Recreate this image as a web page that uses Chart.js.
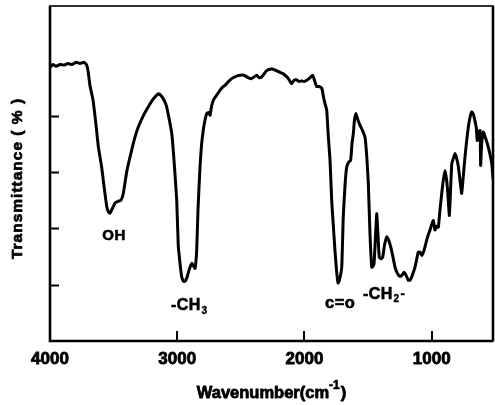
<!DOCTYPE html>
<html>
<head>
<meta charset="utf-8">
<style>
  html, body { margin: 0; padding: 0; background: #fff; }
  #wrap { width: 495px; height: 405px; }
</style>
<script src="https://cdn.jsdelivr.net/npm/chart.js@4.4.1/dist/chart.umd.min.js"></script>
</head>
<body>
<div id="wrap"><canvas id="ftir" width="495" height="405"></canvas></div>
<script>
// FTIR spectrum: wavenumber (cm-1) vs transmittance
const wavenumbers = [
  4000, 3976, 3953, 3921, 3890, 3859, 3827, 3796, 3764, 3733,
  3713, 3701, 3686, 3662, 3638, 3620, 3594, 3576, 3554, 3540,
  3528, 3513, 3489, 3466, 3442, 3424, 3395, 3358, 3332, 3306,
  3269, 3227, 3191, 3149, 3128, 3104, 3083, 3065, 3043, 3025,
  3004, 2992, 2978, 2965, 2951, 2939, 2923, 2907, 2896, 2884,
  2872, 2860, 2847, 2837, 2821, 2809, 2795, 2782, 2768, 2754,
  2742, 2730, 2716, 2695, 2680, 2664, 2644, 2625, 2601, 2572,
  2538, 2507, 2475, 2444, 2415, 2397, 2375, 2357, 2336, 2318,
  2302, 2284, 2255, 2218, 2192, 2169, 2153, 2129, 2100, 2082,
  2066, 2043, 2022, 2004, 1982, 1960, 1935, 1921, 1904, 1886,
  1864, 1850, 1839, 1825, 1813, 1799, 1786, 1773, 1760, 1748,
  1736, 1725, 1707, 1695, 1681, 1668, 1654, 1637, 1626, 1616,
  1607, 1595, 1579, 1563, 1544, 1524, 1511, 1498, 1485, 1471,
  1461, 1453, 1443, 1432, 1422, 1412, 1398, 1385, 1371, 1353,
  1338, 1322, 1304, 1288, 1269, 1249, 1233, 1218, 1202, 1184,
  1170, 1155, 1131, 1105, 1092, 1078, 1060, 1039, 1025, 1013,
  1001, 987, 974, 962, 948, 935, 921, 909, 895, 882,
  872, 861, 852, 842, 830, 817, 803, 790, 777, 764,
  751, 738, 725, 712, 699, 685, 673, 660, 649, 642,
  632, 620, 615, 608, 594, 579, 563, 545, 528, 518
];
const transmittance = [
  48.6, 49.1, 48.8, 49.1, 49.0, 49.3, 49.1, 49.5, 49.3, 49.5,
  49.1, 48.0, 45.4, 42.8, 38.3, 34.5, 30.9, 27.6, 23.9, 22.9,
  22.7, 23.4, 24.5, 24.8, 25.0, 26.2, 30.3, 33.9, 36.2, 38.0,
  39.9, 41.6, 42.9, 43.9, 43.6, 42.8, 41.6, 39.6, 36.9, 32.0,
  25.0, 17.0, 13.8, 11.4, 10.6, 10.6, 11.3, 12.6, 13.3, 13.8,
  13.3, 12.9, 16.1, 23.2, 30.9, 34.8, 37.5, 39.2, 40.4, 40.6,
  40.1, 41.7, 42.8, 43.5, 44.0, 44.5, 45.1, 45.4, 46.0, 46.6,
  47.0, 47.2, 47.2, 46.8, 46.6, 46.9, 47.2, 46.8, 46.9, 47.4,
  47.9, 48.2, 48.3, 48.0, 47.7, 47.5, 47.2, 46.7, 45.7, 46.3,
  46.4, 46.1, 46.2, 46.1, 46.3, 46.7, 47.2, 46.3, 45.2, 45.2,
  44.9, 43.3, 42.2, 41.0, 36.5, 32.1, 25.0, 20.5, 16.0, 12.6,
  10.3, 10.8, 13.1, 22.0, 27.7, 30.9, 31.7, 32.1, 35.2, 36.8,
  39.2, 40.4, 39.2, 38.3, 37.4, 36.2, 33.0, 28.0, 19.1, 13.1,
  13.3, 13.7, 17.9, 22.6, 18.8, 14.9, 14.6, 14.9, 17.0, 18.5,
  17.9, 16.7, 14.9, 13.1, 12.0, 11.5, 11.7, 12.2, 11.7, 10.8,
  10.8, 11.5, 13.1, 15.8, 15.8, 15.2, 16.1, 17.9, 19.0, 19.7,
  20.6, 21.4, 19.7, 20.4, 20.2, 23.2, 26.2, 28.5, 30.3, 28.5,
  25.9, 22.3, 26.6, 31.5, 32.4, 33.3, 32.4, 30.9, 28.5, 26.2,
  29.4, 32.7, 35.6, 38.0, 39.7, 40.7, 40.3, 39.1, 37.8, 35.6,
  37.0, 37.4, 31.2, 34.8, 37.1, 36.2, 35.1, 33.5, 31.5, 28.9
];
const xTickValues = [1000, 2000, 3000, 4000];
const xTickLabels = ['1000', '2000', '3000', '4000'];
const yTickValues = [10, 20, 30, 40];
const bandNames = ['OH', '-CH', 'c=o', '-CH'];
const bandSubscripts = ['', '3', '', '2'];
const bandSuffixes = ['', '', '', '-'];

const FONT = "'Liberation Sans', Arial, Helvetica, sans-serif";

// band label anchors in data units (wavenumber, transmittance)
const bandStyle = [
  { at: [3497, 17.9], align: 'center', size: 15 },
  { at: [3049, 5.5], align: 'left', size: 16 },
  { at: [1838, 5.8], align: 'left', size: 16.5 },
  { at: [1540, 7.5], align: 'left', size: 16 }
];

// heavy bold text: fill plus a thin stroke of the same colour
function heavyText(ctx, s, x, y, w) {
  ctx.fillText(s, x, y);
  ctx.lineWidth = w;
  ctx.strokeText(s, x, y);
}

const frameAndTicks = {
  id: 'frameAndTicks',
  afterDatasetsDraw(chart) {
    const { ctx, chartArea: a, scales } = chart;
    ctx.save();
    ctx.strokeStyle = '#000';
    ctx.lineCap = 'butt';
    ctx.lineWidth = 1.6;
    ctx.strokeRect(a.left, a.top, a.right - a.left, a.bottom - a.top);
    ctx.lineWidth = 2.6;
    ctx.beginPath();
    ctx.moveTo(a.left, a.top);
    ctx.lineTo(a.left, a.bottom);
    ctx.lineTo(a.right, a.bottom);
    ctx.moveTo(a.right, a.top);
    ctx.lineTo(a.right, a.bottom);
    ctx.stroke();
    // inward tick marks
    ctx.lineWidth = 2;
    ctx.beginPath();
    yTickValues.forEach(v => {
      const y = Math.round(scales.y.getPixelForValue(v)) + 0.5;
      ctx.moveTo(a.left, y);
      ctx.lineTo(a.left + 9, y);
    });
    xTickValues.forEach(v => {
      const x = Math.round(scales.x.getPixelForValue(v));
      ctx.moveTo(x, a.bottom);
      ctx.lineTo(x, a.bottom - 10);
    });
    ctx.stroke();
    ctx.restore();
  }
};

const textLayer = {
  id: 'textLayer',
  afterDraw(chart) {
    const { ctx, chartArea: a, scales } = chart;
    ctx.save();
    ctx.fillStyle = '#000';
    ctx.strokeStyle = '#000';
    ctx.lineJoin = 'round';
    ctx.textBaseline = 'alphabetic';
    ctx.textAlign = 'left';

    // band assignments
    bandNames.forEach((name, i) => {
      const st = bandStyle[i];
      let x = scales.x.getPixelForValue(st.at[0]);
      const y = scales.y.getPixelForValue(st.at[1]);
      ctx.font = `bold ${st.size}px ${FONT}`;
      ctx.letterSpacing = '0.5px';
      const w = ctx.measureText(name).width;
      if (st.align === 'center') x -= w / 2;
      heavyText(ctx, name, x, y, 0.6);
      x += w;
      if (bandSubscripts[i]) {
        ctx.font = `bold 10px ${FONT}`;
        heavyText(ctx, bandSubscripts[i], x + 0.5, y + 3.5, 0.4);
        x += ctx.measureText(bandSubscripts[i]).width + 1.5;
      }
      if (bandSuffixes[i]) {
        ctx.font = `bold 13px ${FONT}`;
        heavyText(ctx, bandSuffixes[i], x, y - 1, 0.5);
      }
    });

    // x axis title with superscript
    const cx = (a.left + a.right) / 2;
    const main = 'Wavenumber(cm';
    const sup = '-1';
    const close = ')';
    ctx.letterSpacing = '0px';
    ctx.font = `bold 16.5px ${FONT}`;
    const wMain = ctx.measureText(main).width;
    const wClose = ctx.measureText(close).width;
    ctx.font = `bold 12px ${FONT}`;
    const wSup = ctx.measureText(sup).width;
    let tx = cx - (wMain + wSup + 1 + wClose) / 2;
    const ty = 398;
    ctx.font = `bold 16.5px ${FONT}`;
    heavyText(ctx, main, tx, ty, 0.8);
    tx += wMain;
    ctx.font = `bold 12px ${FONT}`;
    heavyText(ctx, sup, tx, ty - 9.5, 0.6);
    tx += wSup + 1;
    ctx.font = `bold 16.5px ${FONT}`;
    heavyText(ctx, close, tx, ty, 0.8);

    // y axis title
    ctx.translate(22, (a.top + a.bottom) / 2 + 5);
    ctx.rotate(-Math.PI / 2);
    ctx.font = `bold 15.5px ${FONT}`;
    ctx.letterSpacing = '1px';
    ctx.textAlign = 'center';
    heavyText(ctx, 'Transmittance ( % )', 0, 0, 0.7);
    ctx.restore();
  }
};

new Chart(document.getElementById('ftir'), {
  type: 'line',
  data: {
    datasets: [{
      data: wavenumbers.map((w, i) => ({ x: w, y: transmittance[i] })),
      borderColor: '#000',
      borderWidth: 3,
      pointRadius: 0,
      tension: 0.15,
      borderJoinStyle: 'round',
      borderCapStyle: 'round',
      fill: false
    }]
  },
  options: {
    responsive: false,
    animation: false,
    devicePixelRatio: 1,
    layout: { padding: { left: 0, top: 6, right: 2, bottom: 0 } },
    plugins: { legend: { display: false }, tooltip: { enabled: false } },
    scales: {
      x: {
        type: 'linear',
        reverse: true,
        min: 518,
        max: 4000,
        afterBuildTicks: s => { s.ticks = xTickValues.map(v => ({ value: v })); },
        afterFit: s => { s.height = 64; },
        grid: { display: false, drawTicks: false },
        border: { display: false },
        ticks: {
          color: '#000',
          padding: 8,
          maxRotation: 0,
          autoSkip: false,
          textStrokeColor: '#000',
          textStrokeWidth: 0.8,
          font: { family: FONT, weight: 'bold', size: 17 },
          callback: v => xTickLabels[xTickValues.indexOf(v)]
        }
      },
      y: {
        type: 'linear',
        min: 0,
        max: 59.5,
        afterBuildTicks: s => { s.ticks = yTickValues.map(v => ({ value: v })); },
        afterFit: s => { s.width = 50; },
        grid: { display: false, drawTicks: false },
        border: { display: false },
        ticks: { display: false }
      }
    }
  },
  plugins: [frameAndTicks, textLayer]
});
</script>
</body>
</html>
